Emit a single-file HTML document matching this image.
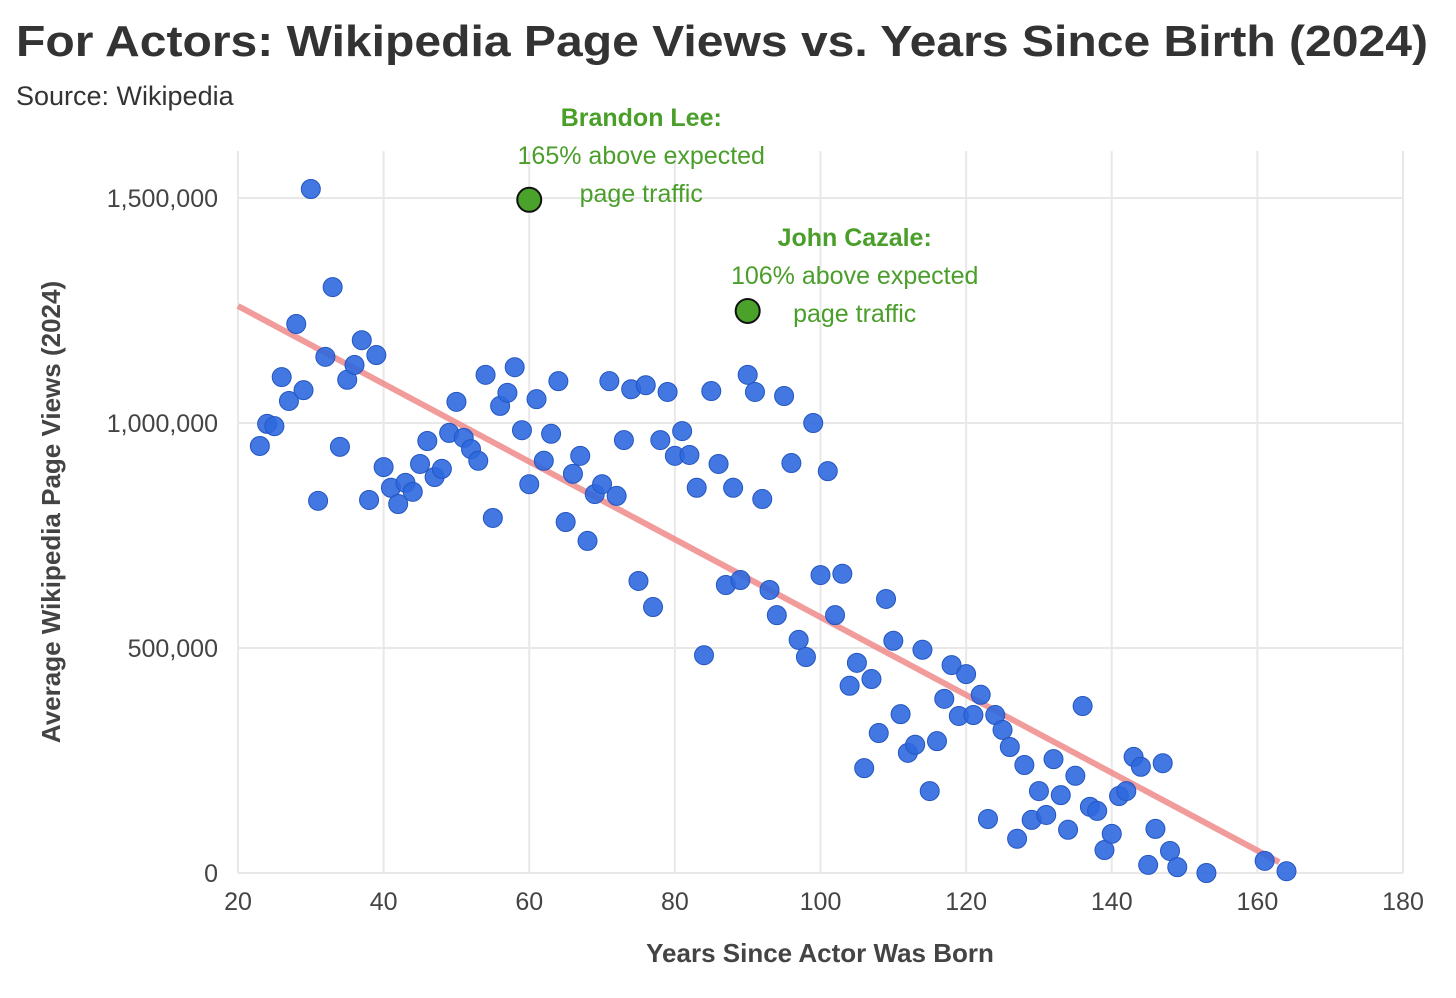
<!DOCTYPE html>
<html><head><meta charset="utf-8"><style>
body{margin:0;background:#fff;font-family:"Liberation Sans",sans-serif;}
svg{display:block}
</style></head><body>
<svg id="chart" width="1456" height="998">
<text x="16" y="56" font-size="44" font-weight="bold" fill="#333" textLength="1412" lengthAdjust="spacingAndGlyphs">For Actors: Wikipedia Page Views vs. Years Since Birth (2024)</text>
<text x="16" y="105" font-size="27" fill="#333">Source: Wikipedia</text>
<g id="grid"></g><g id="axes"></g><g id="marks"></g><g id="ann"></g>
</svg>
<script>
const years=[23,24,25,26,27,28,29,30,31,32,33,34,35,36,37,38,39,40,41,42,43,44,45,46,47,48,49,50,51,52,53,54,55,56,57,58,59,60,61,62,63,64,65,66,67,68,69,70,71,72,73,74,75,76,77,78,79,80,81,82,83,84,85,86,87,88,89,90,91,92,93,94,95,96,97,98,99,100,101,102,103,104,105,106,107,108,109,110,111,112,113,114,115,116,117,118,119,120,121,122,123,124,125,126,127,128,129,130,131,132,133,134,135,136,137,138,139,140,141,142,143,144,145,146,147,148,149,153,161,164];
const views=[949,998,993,1102,1049,1220,1073,1520,827,1147,1302,947,1096,1129,1184,829,1151,902,856,820,867,847,909,960,880,898,978,1047,967,942,916,1107,789,1038,1067,1124,984,864,1053,916,976,1093,780,887,927,738,842,864,1093,838,962,1075,649,1084,591,962,1069,927,982,929,856,484,1071,909,640,856,651,1107,1069,831,629,573,1060,911,518,480,1000,662,893,573,665,416,467,233,431,311,609,516,353,267,285,496,182,293,387,462,349,442,351,396,120,351,318,280,76,240,118,182,129,253,173,96,216,371,147,138,51,87,171,182,258,236,18,98,244,49,13,0,27,4].map(v=>v*1000);
const xTicks=[20,40,60,80,100,120,140,160,180];
const yTicks=[0,500000,1000000,1500000];
const yTickLabels=["0","500,000","1,000,000","1,500,000"];
const trendX=[20,163];
const trendY=[1260000,24000];
const hlNames=["Brandon Lee:","John Cazale:"];
const hlPct=["165% above expected","106% above expected"];
const hlX=[60,90];
const hlY=[1496000,1249000];

const NS="http://www.w3.org/2000/svg";
const X=v=>238+(v-20)*(1403-238)/160;
const Y=v=>873-v*450/1e6;
function mk(parent,tag,attrs,text){const e=document.createElementNS(NS,tag);for(const k in attrs)e.setAttribute(k,attrs[k]);if(text!==undefined)e.textContent=text;document.getElementById(parent).appendChild(e);return e;}
xTicks.forEach(t=>{
 const l=mk('grid','line',{x1:X(t),x2:X(t),y1:151,y2:873,stroke:'#e8e8e8','stroke-width':2});
 
 
 const tx=mk('axes','text',{x:X(t),y:910,'font-size':25,fill:'#444','text-anchor':'middle'},t);
 
 
});
yTicks.forEach((t,i)=>{
 const l=mk('grid','line',{x1:238,x2:1403,y1:Y(t),y2:Y(t),stroke:'#e8e8e8','stroke-width':2});
 
 
 const tx=mk('axes','text',{x:218,y:Y(t)+9,'font-size':25,fill:'#444','text-anchor':'end'},yTickLabels[i]);
 
 
});
const xt=mk('axes','text',{x:820,y:962,'font-size':26,'font-weight':'bold',fill:'#444','text-anchor':'middle'},'Years Since Actor Was Born');


const yt=mk('axes','text',{x:0,y:0,'font-size':26,'font-weight':'bold',fill:'#444','text-anchor':'middle',transform:'translate(60,512) rotate(-90)'},'Average Wikipedia Page Views (2024)');


const tl=mk('marks','line',{x1:X(trendX[0]),y1:Y(trendY[0]),x2:X(trendX[1]),y2:Y(trendY[1]),stroke:'#f08a8a','stroke-width':6,opacity:0.85});


years.forEach((yr,i)=>{
 const c=mk('marks','circle',{cx:X(yr),cy:Y(views[i]),r:9.5,fill:'#2f68df','fill-opacity':0.9,stroke:'#2456c0','stroke-width':1});
 
 
});
const annDx=[112,107];
const annDy=[0,9];
hlNames.forEach((n,i)=>{
 const cx=X(hlX[i]),cy=Y(hlY[i]);
 const c=mk('ann','circle',{cx:cx,cy:cy,r:12,fill:'#4aa22b',stroke:'#111','stroke-width':2});
 
 
 const ax=cx+annDx[i], by=cy+annDy[i];
 const t1=mk('ann','text',{x:ax,y:by-74,'font-size':25,'font-weight':'bold',fill:'#4a9e2a','text-anchor':'middle'},n);
 
 
 const t2=mk('ann','text',{x:ax,y:by-36,'font-size':25,fill:'#4a9e2a','text-anchor':'middle'},hlPct[i]);
 
 
 const t3=mk('ann','text',{x:ax,y:by+2,'font-size':25,fill:'#4a9e2a','text-anchor':'middle'},'page traffic');
 
 
});
</script>
</body></html>
